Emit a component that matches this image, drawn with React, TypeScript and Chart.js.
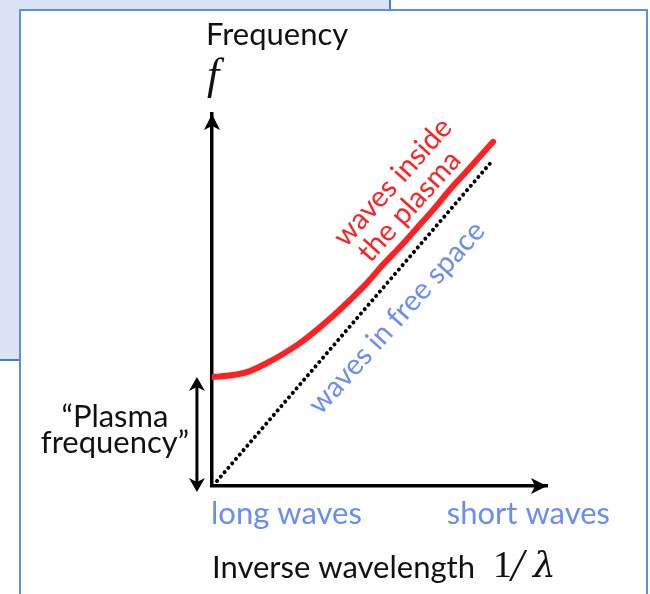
import React, { useEffect, useRef } from "react";
import { Chart, registerables } from "chart.js";

Chart.register(...registerables);

// Inverse wavelength (1/λ) sample positions, arbitrary units
const plasmaX = [0, 0.63, 1.13, 1.64, 2.12, 2.63, 3.13, 3.61, 4.12, 4.63, 5.1, 5.61, 6.12, 6.6, 7.1, 7.61, 8.39];
// Frequency of waves inside the plasma at those positions
const plasmaY = [3.25, 3.31, 3.43, 3.67, 3.94, 4.27, 4.66, 5.07, 5.55, 6.06, 6.6, 7.13, 7.7, 8.24, 8.84, 9.4, 10.27];
// Waves in free space (straight line)
const freeX = [0.15, 8.39];
const freeY = [0.15, 9.73];
// Plasma frequency (cut-off)
const plasmaFrequency = 3.25;
// Axis ranges
const xRange = [0, 10];
const yRange = [0, 11.1];

const BLUE = "#6b8cf5";
const RED = "#ff2121";
const INK = "#111111";
const SANS = "Lato, 'Open Sans', sans-serif";
const SERIF = "'Liberation Serif', 'DejaVu Serif', serif";

function arrowHead(ctx: CanvasRenderingContext2D, tx: number, ty: number, dx: number, dy: number, len: number, half: number) {
  const nx = -dy, ny = dx;
  ctx.beginPath();
  ctx.moveTo(tx, ty);
  ctx.lineTo(tx - dx * len + nx * half, ty - dy * len + ny * half);
  ctx.lineTo(tx - dx * (len - 4), ty - dy * (len - 4));
  ctx.lineTo(tx - dx * len - nx * half, ty - dy * len - ny * half);
  ctx.closePath();
  ctx.fill();
}

function rotatedText(ctx: CanvasRenderingContext2D, text: string, px: number, py: number, angleDeg: number, font: string, color: string) {
  ctx.save();
  ctx.translate(px, py);
  ctx.rotate((angleDeg * Math.PI) / 180);
  ctx.font = font;
  ctx.fillStyle = color;
  ctx.textAlign = "center";
  ctx.textBaseline = "alphabetic";
  ctx.fillText(text, 0, 0);
  ctx.restore();
}

const decor = {
  id: "decor",
  beforeDraw(chart: any) {
    const ctx: CanvasRenderingContext2D = chart.ctx;
    ctx.save();
    ctx.fillStyle = "#ffffff";
    ctx.fillRect(0, 0, chart.width, chart.height);
    ctx.fillStyle = "#dae3f3";
    ctx.fillRect(0, 0, 390, 360);
    ctx.strokeStyle = "#4a78cc";
    ctx.lineWidth = 2;
    ctx.beginPath();
    ctx.moveTo(390, 0);
    ctx.lineTo(390, 360);
    ctx.lineTo(0, 360);
    ctx.stroke();
    ctx.fillStyle = "#ffffff";
    ctx.fillRect(20, 10, 627, 600);
    ctx.strokeStyle = "#5b93da";
    ctx.strokeRect(20, 10, 627, 600);
    ctx.restore();
  },
  afterDraw(chart: any) {
    const ctx: CanvasRenderingContext2D = chart.ctx;
    const { x, y } = chart.scales;
    const x0 = x.getPixelForValue(xRange[0]);
    const y0 = y.getPixelForValue(yRange[0]);
    const xEnd = x.getPixelForValue(xRange[1]);
    const yEnd = y.getPixelForValue(yRange[1]);
    ctx.save();
    ctx.fillStyle = "#000";
    ctx.strokeStyle = "#000";
    // axis arrowheads
    arrowHead(ctx, x0, yEnd, 0, -1, 16, 8);
    arrowHead(ctx, xEnd, y0, 1, 0, 16, 8);

    // plasma-frequency double arrow
    const xa = x.getPixelForValue(-0.45);
    const yTop = y.getPixelForValue(plasmaFrequency);
    const yBot = y.getPixelForValue(-0.18);
    ctx.lineWidth = 3;
    ctx.beginPath();
    ctx.moveTo(xa, yTop + 6);
    ctx.lineTo(xa, yBot - 6);
    ctx.stroke();
    arrowHead(ctx, xa, yTop, 0, -1, 14, 8);
    arrowHead(ctx, xa, yBot, 0, 1, 14, 8);

    // texts
    ctx.textBaseline = "alphabetic";
    ctx.fillStyle = INK;
    ctx.font = `31px ${SANS}`;
    ctx.textAlign = "left";
    ctx.fillText("Frequency", 206, 45);
    ctx.font = `italic 44px ${SERIF}`;
    ctx.fillText("f", 207, 89);

    ctx.font = `31px ${SANS}`;
    ctx.textAlign = "center";
    ctx.fillText("\u201cPlasma", 115, 427);
    ctx.fillText("frequency\u201d", 115, 453);

    ctx.fillStyle = BLUE;
    ctx.textAlign = "left";
    ctx.fillText("long waves", 211, 524);
    ctx.textAlign = "right";
    ctx.fillText("short waves", 610, 524);

    ctx.fillStyle = INK;
    ctx.textAlign = "left";
    ctx.fillText("Inverse wavelength", 212, 578);
    ctx.font = `38px ${SERIF}`;
    ctx.fillText("1", 493, 577);
    ctx.font = `italic 46px ${SERIF}`;
    ctx.fillText("/", 511, 581);
    ctx.font = `italic 36px 'DejaVu Serif', serif`;
    ctx.fillText("\u03bb", 533, 577);

    rotatedText(ctx, "waves inside", x.getPixelForValue(5.6), y.getPixelForValue(8.88), -48, `29px ${SANS}`, RED);
    rotatedText(ctx, "the plasma", x.getPixelForValue(6.1), y.getPixelForValue(8.16), -48, `29px ${SANS}`, RED);
    rotatedText(ctx, "waves in free space", x.getPixelForValue(5.72), y.getPixelForValue(4.84), -48, `29px ${SANS}`, BLUE);
    ctx.restore();
  },
};

export default function App() {
  const ref = useRef<HTMLCanvasElement>(null);
  useEffect(() => {
    if (!ref.current) return;
    const chart = new Chart(ref.current, {
      type: "scatter",
      data: {
        datasets: [
          {
            label: "waves inside the plasma",
            data: plasmaX.map((v, i) => ({ x: v, y: plasmaY[i] })),
            showLine: true,
            borderColor: RED,
            borderWidth: 6,
            borderCapStyle: "round",
            pointRadius: 0,
            cubicInterpolationMode: "monotone",
          },
          {
            label: "waves in free space",
            data: freeX.map((v, i) => ({ x: v, y: freeY[i] })),
            showLine: true,
            borderColor: "#000000",
            borderWidth: 4,
            borderDash: [0.01, 5.8],
            borderCapStyle: "round",
            pointRadius: 0,
          },
        ],
      },
      options: {
        animation: false,
        responsive: false,
        devicePixelRatio: 1,
        layout: { padding: { left: 212, right: 103, top: 114, bottom: 108 } },
        plugins: { legend: { display: false }, tooltip: { enabled: false }, title: { display: false } },
        scales: {
          x: {
            type: "linear",
            min: xRange[0],
            max: xRange[1],
            grid: { display: false, drawTicks: false },
            ticks: { display: false },
            border: { display: true, color: "#000", width: 3.5 },
          },
          y: {
            type: "linear",
            min: yRange[0],
            max: yRange[1],
            grid: { display: false, drawTicks: false },
            ticks: { display: false },
            border: { display: true, color: "#000", width: 3.5 },
          },
        },
      },
      plugins: [decor],
    } as any);
    return () => chart.destroy();
  }, []);
  return (
    <div style={{ position: "absolute", left: 0, top: 0, width: 650, height: 594, overflow: "hidden" }}>
      <canvas ref={ref} width={650} height={594} style={{ display: "block", width: 650, height: 594 }} />
    </div>
  );
}
